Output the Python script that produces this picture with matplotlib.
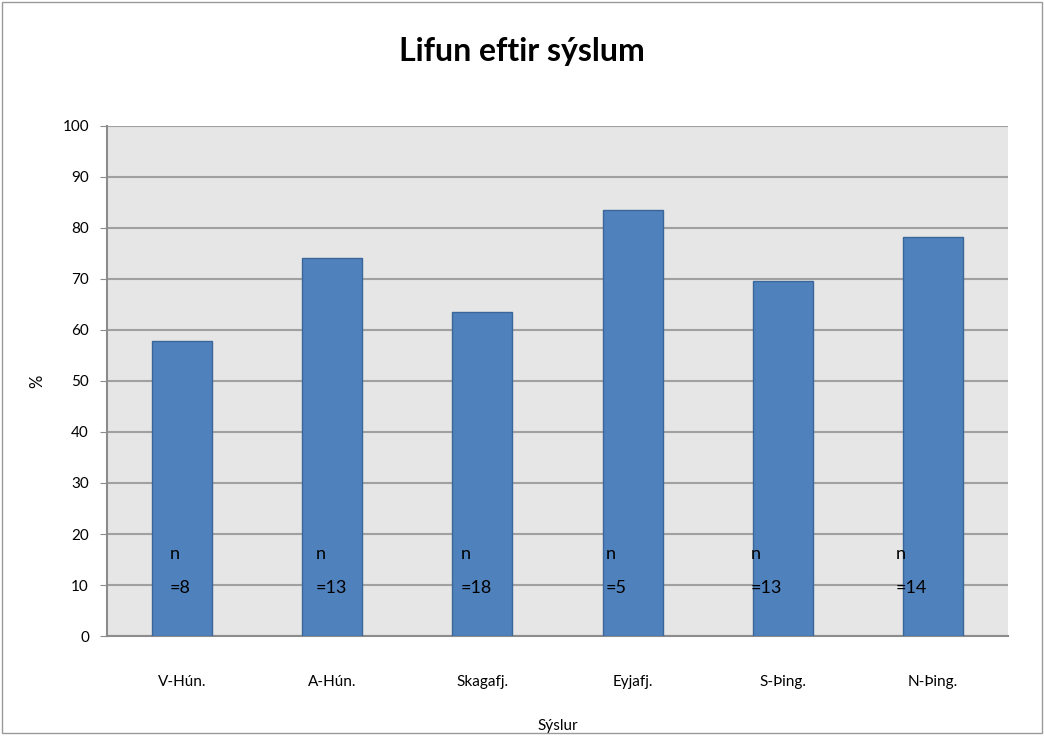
import numpy as np
import matplotlib.pyplot as plt
from matplotlib.patches import Rectangle

# data
syslur = ['V-Hún.', 'A-Hún.', 'Skagafj.', 'Eyjafj.', 'S-Þing.', 'N-Þing.']
lifun = [57.8, 74.1, 63.5, 83.5, 69.6, 78.2]
fjoldi = [8, 13, 18, 5, 13, 14]

plt.rcParams['font.family'] = ['Lato', 'DejaVu Sans']

fig = plt.figure(figsize=(10.44, 7.38), dpi=100)
ax = fig.add_axes([0.1025, 0.1382, 0.863, 0.6911])
fig.patches.append(Rectangle((0.002, 0.007), 0.996, 0.99, transform=fig.transFigure,
                             fill=False, edgecolor='#9a9a9a', linewidth=1))

x = np.arange(len(syslur))
ax.set_facecolor('#e6e6e6')
ax.bar(x, lifun, width=0.4, color='#4f81bd', edgecolor='#3b6699', linewidth=1, zorder=3)

# n labels inside the bars
for i, n in enumerate(fjoldi):
    dx = -0.08 - 0.033 * i
    ax.text(x[i] + dx, 16, 'n', fontsize=13, ha='left', va='center', zorder=4)
    ax.text(x[i] + dx, 9.5, '=' + str(n), fontsize=13, ha='left', va='center', zorder=4)

ax.set_xlim(-0.5, len(syslur) - 0.5)
ax.set_ylim(0, 100)
ax.set_yticks(range(0, 101, 10))
ax.set_xticks(x)
ax.set_xticklabels(syslur)
ax.yaxis.grid(True, color='#a0a0a0', linewidth=1.5, zorder=0)
ax.set_axisbelow(True)
for s in ['top', 'right']:
    ax.spines[s].set_visible(False)
ax.spines['left'].set_color('#8c8c8c')
ax.spines['bottom'].set_color('#8c8c8c')
ax.spines['left'].set_linewidth(1.5)
ax.spines['bottom'].set_linewidth(1.5)
ax.tick_params(axis='y', length=5, color='#8c8c8c', labelsize=11, pad=8)
ax.tick_params(axis='x', length=0, labelsize=11, pad=28)

ax.set_ylabel('%', fontsize=12)
ax.yaxis.set_label_coords(-0.068, 0.5)
ax.set_xlabel('Sýslur', fontsize=11, labelpad=22)
fig.text(0.5, 0.93, 'Lifun eftir sýslum', ha='center', va='center', fontsize=23, fontweight='bold')

plt.savefig('out.png', dpi=100)
